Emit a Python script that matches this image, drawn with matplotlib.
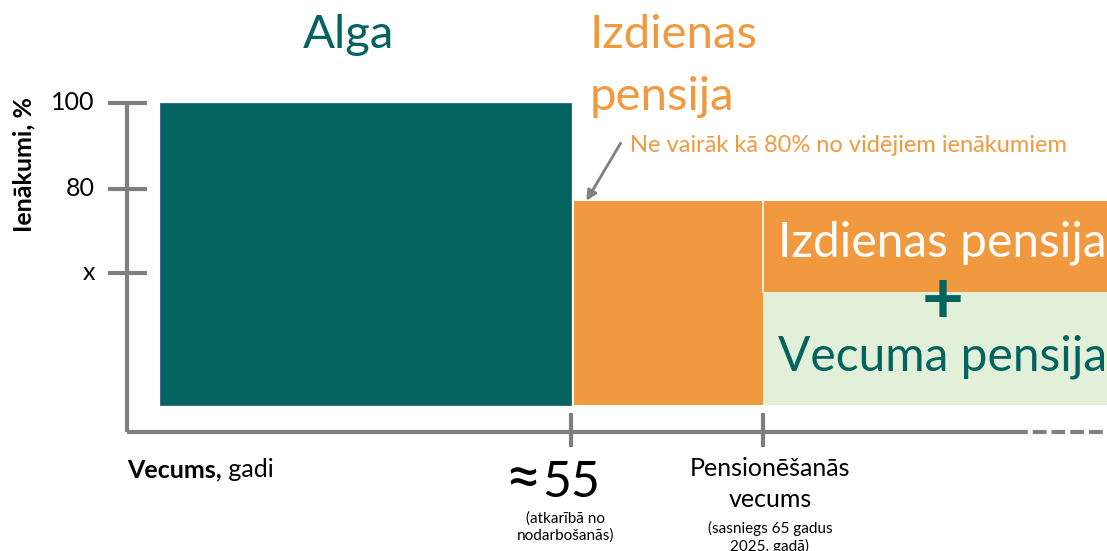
import matplotlib
matplotlib.use("Agg")
import matplotlib.pyplot as plt

plt.rcParams['font.family'] = ['Lato', 'DejaVu Sans']

# Schematic income levels (% of average income)
income_ticks = [100, 80, 60.5]
income_tick_labels = ["100", "80", "x"]
salary_level = 100
service_pension_level = 77.2
old_age_split_level = 56.0
bar_base = 29.8
axis_base = 23.5

# Schematic ages along the horizontal axis
career_start = 33.6
early_age = 55
retirement_age = 65
horizon_end = 83.0
axis_solid_end = 78.1
yaxis_pos = 31.9

TEAL = "#02635F"
ORANGE = "#F0993F"
LIGHT_GREEN = "#E2F0D9"
GRAY = "#7F7F7F"

fig = plt.figure(figsize=(11.07, 5.51), dpi=100)
ax = fig.add_axes([0, 0, 1, 1])
ax.set_xlim(25.26, 82.92)
ax.set_ylim(-4.2, 123.95)
ax.axis("off")

# Income blocks
ax.bar(career_start, salary_level - bar_base, width=early_age - career_start,
       bottom=bar_base, align="edge", color=TEAL, edgecolor="#2F5F8F", linewidth=0.6, zorder=2)
ax.bar(early_age + 0.15, service_pension_level - bar_base,
       width=retirement_age - early_age - 0.15, bottom=bar_base, align="edge",
       color=ORANGE, linewidth=0, zorder=2)
ax.bar(retirement_age, service_pension_level - old_age_split_level,
       width=horizon_end - retirement_age, bottom=old_age_split_level, align="edge",
       color=ORANGE, linewidth=0, zorder=2)
ax.bar(retirement_age, old_age_split_level - bar_base,
       width=horizon_end - retirement_age, bottom=bar_base, align="edge",
       color=LIGHT_GREEN, linewidth=0, zorder=2)
ax.plot([retirement_age, retirement_age], [old_age_split_level, service_pension_level],
        color="white", lw=1.2, zorder=3)

# Axes lines
ax.plot([yaxis_pos, yaxis_pos], [axis_base, salary_level], color=GRAY, lw=3, zorder=1,
        solid_capstyle="butt")
ax.plot([yaxis_pos, axis_solid_end], [axis_base, axis_base], color=GRAY, lw=3, zorder=1,
        solid_capstyle="butt")
ax.plot([axis_solid_end, horizon_end], [axis_base, axis_base], color=GRAY, lw=3, zorder=1,
        dashes=(3.3, 1.2), dash_capstyle="butt")

for lvl, lab in zip(income_ticks, income_tick_labels):
    ax.plot([30.89, 32.92], [lvl, lvl], color=GRAY, lw=3, solid_capstyle="butt", zorder=1)
    ax.text(30.2, lvl, lab, ha="right", va="center", fontsize=18, color="black")

for age in (early_age, retirement_age):
    ax.plot([age, age], [20.0, 27.9], color=GRAY, lw=3, solid_capstyle="butt", zorder=1)

ax.text(26.5, 85.6, "Ienākumi, %", rotation=90, ha="center", va="center",
        fontsize=18, fontweight="bold")

# Titles of blocks
ax.text(43.4, 115.8, "Alga", ha="center", va="center", fontsize=34, color=TEAL)
ax.text(55.95, 115.8, "Izdienas", ha="left", va="center", fontsize=34, color=ORANGE)
ax.text(55.95, 101.4, "pensija", ha="left", va="center", fontsize=34, color=ORANGE)

ax.text(58.07, 90.2, "Ne vairāk kā 80% no vidējiem ienākumiem", ha="left", va="center",
        fontsize=17, color=ORANGE)
ax.annotate("", xy=(55.73, 76.7), xytext=(57.66, 91.2),
            arrowprops=dict(arrowstyle="-|>", color=GRAY, lw=2, mutation_scale=15))

ax.text(74.35, 67.4, "Izdienas pensija", ha="center", va="center", fontsize=34.5,
        color="white", zorder=4)
ax.text(74.35, 53.6, "+", ha="center", va="center", fontsize=52, fontweight="bold",
        color=TEAL, zorder=4)
ax.text(74.35, 41.0, "Vecuma pensija", ha="center", va="center", fontsize=34.5,
        color=TEAL, zorder=4)

# Horizontal axis labels
t1 = ax.text(31.9, 14.65, "Vecums,", ha="left", va="center", fontsize=18, fontweight="bold")
ax.annotate(" gadi", xy=(1, 0.5), xycoords=t1, ha="left", va="center", fontsize=18)

ax.text(53.45, 12.2, "≈", ha="right", va="center", fontsize=46)
ax.text(53.5, 11.6, "55", ha="left", va="center", fontsize=36)
ax.text(54.74, 1.4, "(atkarībā no\nnodarbošanās)", ha="center", va="center",
        fontsize=11, linespacing=1.2)
ax.text(65.36, 15.1, "Pensionēšanās", ha="center", va="center", fontsize=18)
ax.text(65.36, 7.7, "vecums", ha="center", va="center", fontsize=18)
ax.text(65.36, -1.0, "(sasniegs 65 gadus\n2025. gadā)", ha="center", va="center",
        fontsize=11, linespacing=1.2)

fig.savefig("out.png", dpi=100)
